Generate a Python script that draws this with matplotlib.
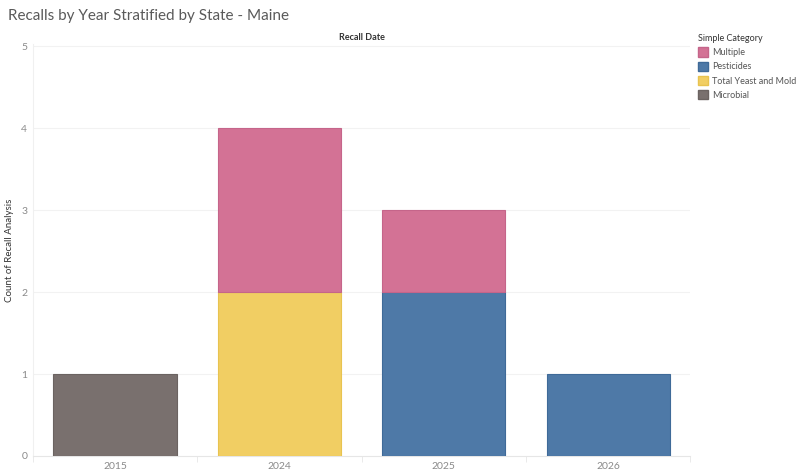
import numpy as np
import matplotlib
matplotlib.use("Agg")
import matplotlib.pyplot as plt
from matplotlib.patches import Patch

plt.rcParams['font.family'] = ['Lato', 'DejaVu Sans']

years = ["2015", "2024", "2025", "2026"]
categories = ["Multiple", "Pesticides", "Total Yeast and Mold", "Microbial"]
colors = ["#D37295", "#4E79A7", "#F1CE63", "#79706E"]
edges = ["#C5658A", "#3F6A98", "#E8C350", "#6B6361"]

# counts per category, per year
microbial = [1, 0, 0, 0]
yeast_mold = [0, 2, 0, 0]
pesticides = [0, 0, 2, 1]
multiple = [0, 2, 1, 0]

# stacking order bottom -> top
stack = [
    ("Microbial", microbial),
    ("Total Yeast and Mold", yeast_mold),
    ("Pesticides", pesticides),
    ("Multiple", multiple),
]
col_of = dict(zip(categories, colors))
edge_of = dict(zip(categories, edges))

fig = plt.figure(figsize=(8, 4.72), dpi=100)
ax = fig.add_axes([0.041, 0.034, 0.822, 0.873])

x = np.arange(len(years))
bottom = np.zeros(len(years))
for name, vals in stack:
    vals = np.array(vals, dtype=float)
    mask = vals > 0
    ax.bar(x[mask], vals[mask], bottom=bottom[mask], width=0.75,
           color=col_of[name], edgecolor=edge_of[name], linewidth=0.8, zorder=3)
    bottom += vals

ax.set_xlim(-0.5, len(years) - 0.5)
ax.set_ylim(0, 5.03)

for s in ["top", "right"]:
    ax.spines[s].set_visible(False)
ax.spines["left"].set_color("#f0f0f0")
ax.spines["bottom"].set_color("#e6e6e6")

ax.set_yticks(range(6))
ax.set_yticklabels([str(i) for i in range(6)], fontsize=7.5, color="#8a8a8a")
ax.tick_params(axis="y", length=0, pad=4)
for i in range(1, 6):
    ax.axhline(i, color="#f2f2f2", linewidth=0.8, zorder=0)

ax.set_xticks(x)
ax.set_xticklabels(years, fontsize=7.5, color="#8a8a8a")
ax.tick_params(axis="x", length=0, pad=4)
ax.set_xticks(np.arange(-0.5, len(years)), minor=True)
ax.tick_params(axis="x", which="minor", length=4, color="#e6e6e6")

ax.set_ylabel("Count of Recall Analysis", fontsize=7, color="#333333", labelpad=5)

fig.text(0.01, 0.967, "Recalls by Year Stratified by State - Maine", fontsize=11,
         color="#5a5a5a", va="center", ha="left")
fig.text(0.452, 0.92, "Recall Date", fontsize=6.5, color="#333333",
         ha="center", va="center", fontweight="bold")

handles = [Patch(facecolor=c, edgecolor=e) for c, e in zip(colors, edges)]
leg = fig.legend(handles, categories, loc="upper left", bbox_to_anchor=(0.872, 0.928),
                 frameon=False, fontsize=6.5, title="Simple Category",
                 title_fontsize=6.5, handlelength=1.2, handleheight=1.2,
                 handletextpad=0.4, labelspacing=0.5, borderaxespad=0,
                 borderpad=0, alignment="left", labelcolor="#555555")
leg.get_title().set_color("#333333")

fig.savefig("out.png", dpi=100)
